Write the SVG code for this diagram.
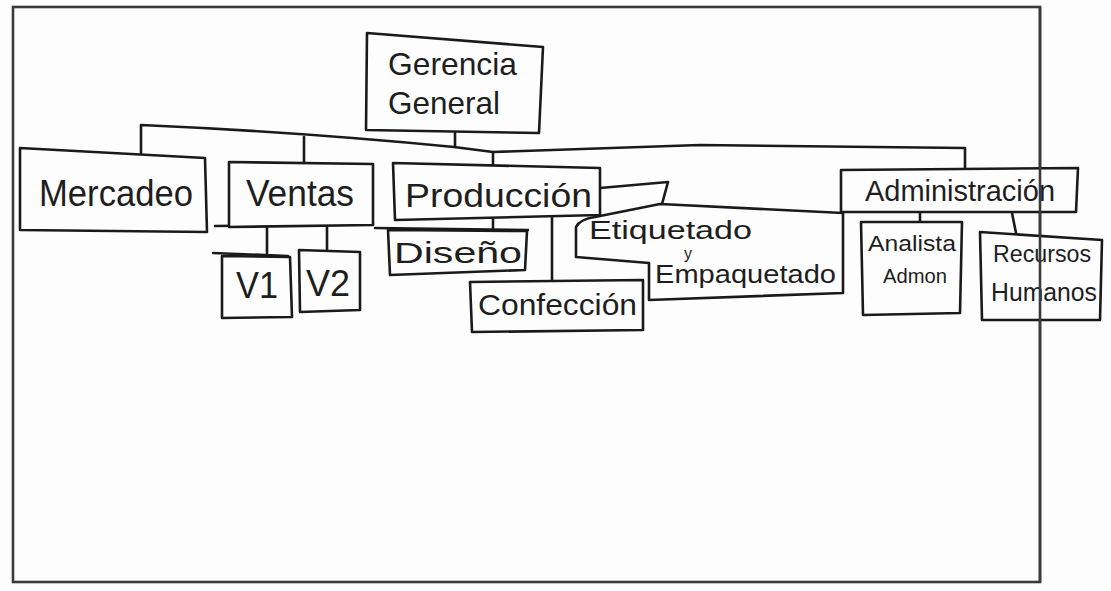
<svg xmlns="http://www.w3.org/2000/svg" width="1111" height="591" viewBox="0 0 1111 591">
<style>
.box{fill:#fdfdfd;stroke:#1a1a1a;stroke-width:2.6;stroke-linejoin:round}
.ln{fill:none;stroke:#1a1a1a;stroke-width:2.6;stroke-linecap:round;stroke-linejoin:round}
.t{font-family:"Liberation Sans","DejaVu Sans",sans-serif;fill:#1e1e1e}
</style>
<rect width="1111" height="591" fill="#fdfdfd"/>
<rect x="13" y="7" width="1027" height="575" fill="none" stroke="#3a3a3a" stroke-width="2.6"/>
<g id="connectors">
<path class="ln" d="M455,133 L455,147"/>
<path class="ln" d="M141,153 L141,125 Q300,132 454,147 L493,152 L700,145 L965,148 L965,170"/>
<path class="ln" d="M304,137 L304,163"/>
<path class="ln" d="M493,152 L493,166"/>
<path class="ln" d="M215,226 L373,224"/>
<path class="ln" d="M267,226 L267,253"/>
<path class="ln" d="M213,253 L288,256"/>
<path class="ln" d="M327,217 L327,250"/>
<path class="ln" d="M375,228 L528,230"/>
<path class="ln" d="M493,218 L493,229"/>
<path class="ln" d="M552,218 L552,280"/>
<path class="ln" d="M600,188 L668,182 L662,204"/>
<path class="ln" d="M920,212 L920,223"/>
<path class="ln" d="M1012,213 L1016,233"/>
</g>
<g id="gerencia">
<path class="box" d="M367,33 L543,47 L539,133 L366,130 Z"/>
<text class="t" x="388" y="75" font-size="32" textLength="129" lengthAdjust="spacingAndGlyphs">Gerencia</text>
<text class="t" x="388" y="114" font-size="32" textLength="112" lengthAdjust="spacingAndGlyphs">General</text>
</g>
<g id="mercadeo">
<path class="box" d="M20,148 L205,158 L207,232 L20,230 Z"/>
<text class="t" x="39" y="206" font-size="36" textLength="154" lengthAdjust="spacingAndGlyphs">Mercadeo</text>
</g>
<g id="ventas">
<path class="box" d="M229,162 L373,164 L373,225 L229,227 Z"/>
<text class="t" x="246" y="206" font-size="36" textLength="108" lengthAdjust="spacingAndGlyphs">Ventas</text>
</g>
<g id="produccion">
<path class="box" d="M393,163 L600,168 L600,215 L395,220 Z"/>
<text class="t" x="405" y="207" font-size="34" textLength="187" lengthAdjust="spacingAndGlyphs">Producción</text>
</g>
<g id="administracion">
<path class="box" d="M841,170 L1078,168 L1076,212 L841,212 Z"/>
<text class="t" x="865" y="201" font-size="30" textLength="190" lengthAdjust="spacingAndGlyphs">Administración</text>
</g>
<g id="v1">
<path class="box" d="M222,256 L290,257 L292,317 L222,318 Z"/>
<text class="t" x="236" y="298" font-size="36" textLength="42" lengthAdjust="spacingAndGlyphs">V1</text>
</g>
<g id="v2">
<path class="box" d="M299,250 L360,252 L360,310 L300,312 Z"/>
<text class="t" x="306" y="296" font-size="36" textLength="44" lengthAdjust="spacingAndGlyphs">V2</text>
</g>
<g id="diseno">
<path class="box" d="M388,230 L527,231 L525,270 L390,275 Z"/>
<text class="t" x="394" y="263" font-size="29" textLength="128" lengthAdjust="spacingAndGlyphs">Diseño</text>
</g>
<g id="confeccion">
<path class="box" d="M470,282 L643,280 L643,330 L472,332 Z"/>
<text class="t" x="478" y="315" font-size="30" textLength="159" lengthAdjust="spacingAndGlyphs">Confección</text>
</g>
<g id="etiquetado">
<path class="box" d="M576,227 Q580,219 595,217 L660,204 L843,213 L843,293 L649,300 L649,263 L576,257 Z"/>
<text class="t" x="589" y="239" font-size="25" textLength="163" lengthAdjust="spacingAndGlyphs">Etiquetado</text>
<text class="t" x="684" y="259" font-size="16">y</text>
<text class="t" x="655" y="283" font-size="25" textLength="181" lengthAdjust="spacingAndGlyphs">Empaquetado</text>
</g>
<g id="analista">
<path class="box" d="M861,222 L962,222 L960,313 L863,315 Z"/>
<text class="t" x="868" y="251" font-size="22" textLength="88" lengthAdjust="spacingAndGlyphs">Analista</text>
<text class="t" x="883" y="283" font-size="20" textLength="64" lengthAdjust="spacingAndGlyphs">Admon</text>
</g>
<g id="recursos">
<path class="box" d="M980,232 L1102,240 L1100,320 L982,320 Z"/>
<text class="t" x="993" y="262" font-size="24" textLength="98" lengthAdjust="spacingAndGlyphs">Recursos</text>
<text class="t" x="991" y="301" font-size="26" textLength="106" lengthAdjust="spacingAndGlyphs">Humanos</text>
</g>
<line x1="1040" y1="7" x2="1040" y2="582" stroke="#3a3a3a" stroke-width="2.6"/>
</svg>
